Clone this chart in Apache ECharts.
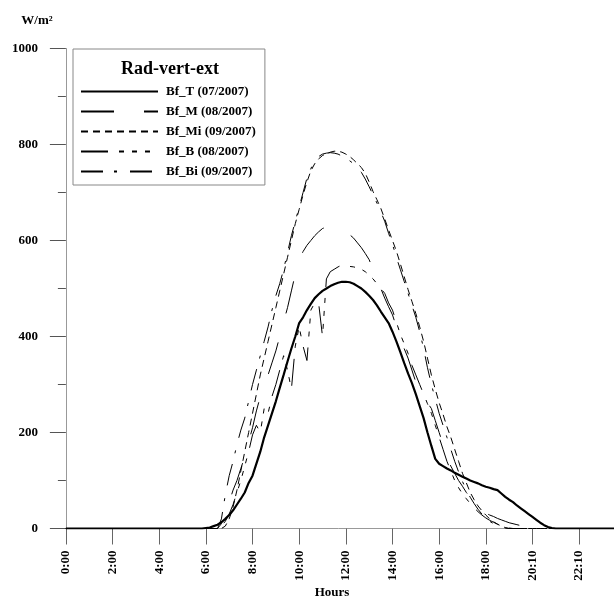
<!DOCTYPE html>
<html>
<head>
<meta charset="utf-8">
<script src="https://cdn.jsdelivr.net/npm/echarts@6.0.0/dist/echarts.min.js"></script>
<style>
html,body{margin:0;padding:0;background:#fff;}
#chart{width:614px;height:601px;}
</style>
</head>
<body>
<div id="chart"></div>
<script>
// 10-minute time steps (20:00 missing in the source series)
const categories = [
"0:00","0:10","0:20","0:30","0:40","0:50","1:00","1:10","1:20","1:30","1:40","1:50",
"2:00","2:10","2:20","2:30","2:40","2:50","3:00","3:10","3:20","3:30","3:40","3:50",
"4:00","4:10","4:20","4:30","4:40","4:50","5:00","5:10","5:20","5:30","5:40","5:50",
"6:00","6:10","6:20","6:30","6:40","6:50","7:00","7:10","7:20","7:30","7:40","7:50",
"8:00","8:10","8:20","8:30","8:40","8:50","9:00","9:10","9:20","9:30","9:40","9:50",
"10:00","10:10","10:20","10:30","10:40","10:50","11:00","11:10","11:20","11:30","11:40","11:50",
"12:00","12:10","12:20","12:30","12:40","12:50","13:00","13:10","13:20","13:30","13:40","13:50",
"14:00","14:10","14:20","14:30","14:40","14:50","15:00","15:10","15:20","15:30","15:40","15:50",
"16:00","16:10","16:20","16:30","16:40","16:50","17:00","17:10","17:20","17:30","17:40","17:50",
"18:00","18:10","18:20","18:30","18:40","18:50","19:00","19:10","19:20","19:30","19:40","19:50",
"20:10","20:20","20:30","20:40","20:50","21:00","21:10","21:20","21:30","21:40","21:50","22:00",
"22:10","22:20","22:30","22:40","22:50","23:00","23:10","23:20","23:30","23:40","23:50"
];

const tickIndices = [0,12,24,36,48,60,72,84,96,108,120,132];

const seriesNames = ["Bf_T (07/2007)","Bf_M (08/2007)","Bf_Mi (09/2007)","Bf_B (08/2007)","Bf_Bi (09/2007)"];

const bfT = [
0,0,0,0,0,0,0,0,0,0,0,0,
0,0,0,0,0,0,0,0,0,0,0,0,
0,0,0,0,0,0,0,0,0,0,0,0,
1,2,5,8,13,20,28,38,50,62,75,95,
110,135,160,190,215,240,265,293,320,348,375,400,
428,440,455,468,480,488,495,500,505,509,512,514,
514,513,510,505,500,493,485,476,465,452,440,428,
410,390,368,345,323,303,280,255,230,200,172,145,
135,130,125,121,116,112,108,104,100,97,94,90,
87,85,82,80,73,66,60,55,48,42,36,30,
24,18,12,7,3,1,0,0,0,0,0,0,
0,0,0,0,0,0,0,0,0,0,0
];

const bfM = [
0,0,0,0,0,0,0,0,0,0,0,0,
0,0,0,0,0,0,0,0,0,0,0,0,
0,0,0,0,0,0,0,0,0,0,0,0,
0,0,0,0,10,30,55,80,100,125,150,180,
210,245,275,300,320,345,370,400,430,460,495,530,
560,577,590,600,610,618,625,628,630,630,628,622,
617,612,605,595,585,573,560,540,520,500,480,462,
445,420,395,375,355,330,305,290,275,262,250,225,
200,175,150,130,115,100,88,75,65,55,45,38,
32,28,25,21,18,15,12,10,8,6,5,4,
3,2,1,0,0,0,0,0,0,0,0,0,
0,0,0,0,0,0,0,0,0,0,0
];

const bfMi = [
0,0,0,0,0,0,0,0,0,0,0,0,
0,0,0,0,0,0,0,0,0,0,0,0,
0,0,0,0,0,0,0,0,0,0,0,0,
0,0,0,0,0,5,20,45,80,120,160,200,
240,280,320,355,390,425,460,495,530,565,600,635,
665,695,722,745,760,770,777,781,784,786,786,784,
780,775,768,760,752,740,722,702,685,667,645,622,
600,578,552,525,498,473,448,420,390,355,320,290,
262,238,212,190,165,140,115,95,75,60,47,37,
28,20,14,9,5,2,0,0,0,0,0,0,
0,0,0,0,0,0,0,0,0,0,0,0,
0,0,0,0,0,0,0,0,0,0,0
];

const bfB = [
0,0,0,0,0,0,0,0,0,0,0,0,
0,0,0,0,0,0,0,0,0,0,0,0,
0,0,0,0,0,0,0,0,0,0,0,0,
0,0,0,0,5,15,30,50,75,100,130,160,
195,215,200,250,240,275,300,330,360,330,290,380,
420,380,350,455,470,470,400,520,535,540,545,549,
548,546,545,543,540,535,528,520,510,500,490,470,
455,430,405,385,365,340,320,300,280,260,240,215,
190,165,140,120,100,85,72,62,52,43,35,28,
22,17,13,9,6,3,1,0,0,0,0,0,
0,0,0,0,0,0,0,0,0,0,0,0,
0,0,0,0,0,0,0,0,0,0,0
];

const bfBi = [
0,0,0,0,0,0,0,0,0,0,0,0,
0,0,0,0,0,0,0,0,0,0,0,0,
0,0,0,0,0,0,0,0,0,0,0,0,
0,0,0,0,20,70,110,140,175,205,230,265,
300,330,360,390,420,455,485,510,540,575,610,640,
670,700,730,750,765,775,780,782,783,782,780,776,
772,766,760,752,742,728,712,695,678,660,640,615,
592,565,540,515,490,465,440,410,375,335,300,270,
240,215,190,165,140,118,98,80,65,52,40,30,
22,15,10,6,3,1,0,0,0,0,0,0,
0,0,0,0,0,0,0,0,0,0,0,0,
0,0,0,0,0,0,0,0,0,0,0
];

const FONT = '"Liberation Serif", "Times New Roman", serif';
const seriesData = [bfT, bfM, bfMi, bfB, bfBi];
const dashes = ['solid', [33, 30], [7, 5], [27, 11, 5, 8, 5, 8, 5, 11], [22, 11, 3, 13]];
const widths = [2.2, 1, 1, 1, 1];

const chart = echarts.init(document.getElementById('chart'), null, {renderer: 'canvas'});
chart.setOption({
  animation: false,
  backgroundColor: '#fff',
  grid: {left: 62, top: 48.5, width: 556, height: 480, containLabel: false, outerBoundsMode: 'none'},
  xAxis: {
    type: 'value',
    min: -1,
    max: 142,
    splitLine: {show: false},
    axisLine: {show: true, onZero: false, lineStyle: {color: '#999', width: 1}},
    axisTick: {show: true, length: 16, customValues: tickIndices, lineStyle: {color: '#666', width: 1}},
    axisLabel: {
      show: true, rotate: 90, margin: 22, customValues: tickIndices,
      formatter: v => categories[v],
      fontFamily: FONT, fontWeight: 'bold', fontSize: 13, color: '#000'
    }
  },
  yAxis: {
    type: 'value',
    min: 0, max: 1000, interval: 200,
    splitLine: {show: false},
    axisLine: {show: true, lineStyle: {color: '#999', width: 1}},
    axisTick: {show: true, length: 16, lineStyle: {color: '#555', width: 1}},
    minorTick: {show: true, splitNumber: 2, length: 8, lineStyle: {color: '#555', width: 1}},
    minorSplitLine: {show: false},
    axisLabel: {margin: 24, formatter: v => String(v), fontFamily: FONT, fontWeight: 'bold', fontSize: 13, color: '#000'}
  },
  legend: {
    orient: 'vertical',
    left: 73, top: 49,
    padding: [36, 9, 7, 7],
    borderColor: '#888', borderWidth: 1,
    backgroundColor: '#fff',
    itemWidth: 77, itemHeight: 12, itemGap: 7,
    itemStyle: {opacity: 0, borderWidth: 0},
    textStyle: {fontFamily: FONT, fontWeight: 'bold', fontSize: 13, color: '#000', padding: [0, 0, 0, 3]},
    data: seriesNames
  },
  graphic: [
    {type: 'text', x: 170, y: 69, z: 100, style: {text: 'Rad-vert-ext', font: 'bold 18px ' + FONT, fill: '#000', align: 'center', verticalAlign: 'middle'}},
    {type: 'text', x: 37, y: 21, style: {text: 'W/m²', font: 'bold 13px ' + FONT, fill: '#000', align: 'center', verticalAlign: 'middle'}},
    {type: 'text', x: 332, y: 593, style: {text: 'Hours', font: 'bold 13px ' + FONT, fill: '#000', align: 'center', verticalAlign: 'middle'}}
  ],
  series: seriesNames.map((name, k) => ({
    name: name,
    type: 'line',
    symbol: 'none',
    showSymbol: false,
    clip: true,
    data: seriesData[k].map((v, i) => [i, v]),
    lineStyle: {color: '#000', width: widths[k], type: dashes[k]},
    itemStyle: {color: '#000'},
    z: k === 0 ? 5 : 3
  }))
});
</script>
</body>
</html>
